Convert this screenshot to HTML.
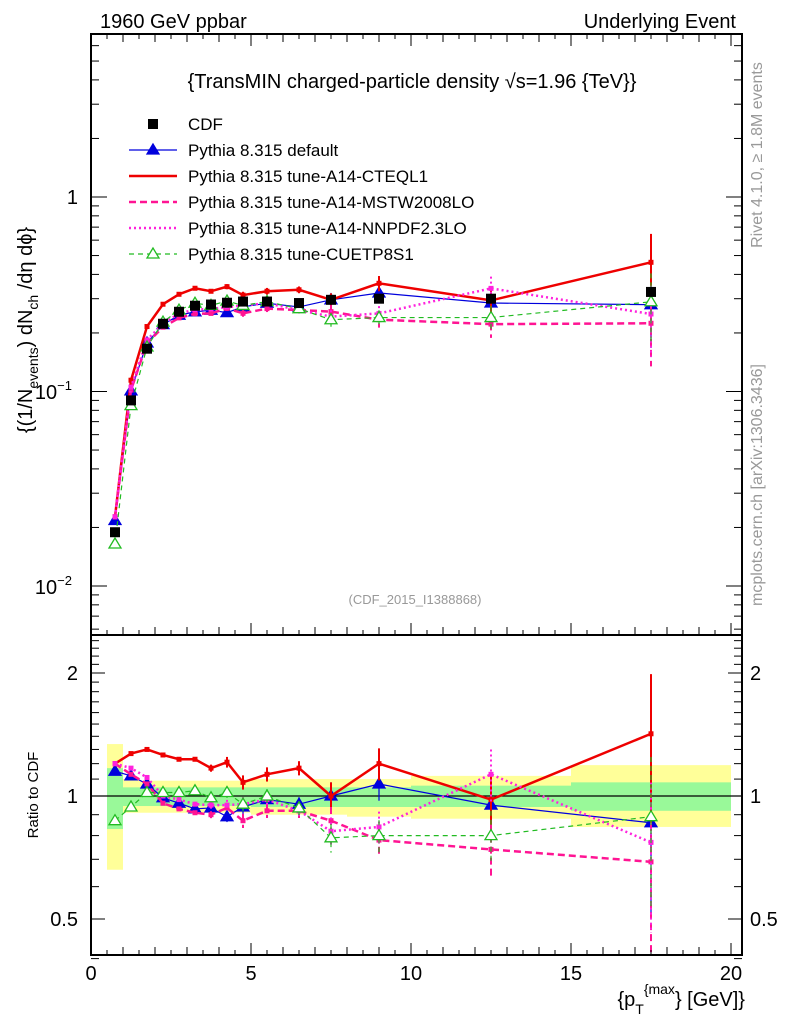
<!DOCTYPE html>
<html><head><meta charset="utf-8"><style>
body{margin:0;background:#fff;}
svg{display:block;font-family:"Liberation Sans",sans-serif;}
</style></head><body>
<svg id="c" width="786" height="1024" viewBox="0 0 786 1024" xmlns="http://www.w3.org/2000/svg">
<text x="100" y="28" font-size="20">1960 GeV ppbar</text>
<text x="736" y="28" font-size="20" text-anchor="end">Underlying Event</text>
<text x="412" y="88" font-size="20" text-anchor="middle">{TransMIN charged-particle density √s=1.96 {TeV}}</text>
<text x="415" y="604" font-size="13" fill="#999" text-anchor="middle">(CDF_2015_I1388868)</text>
<text transform="translate(762,155) rotate(-90)" font-size="16" fill="#999" text-anchor="middle">Rivet 4.1.0, ≥ 1.8M events</text>
<text transform="translate(762,485) rotate(-90)" font-size="16" fill="#999" text-anchor="middle">mcplots.cern.ch [arXiv:1306.3436]</text>
<text transform="translate(32,330) rotate(-90)" font-size="20" text-anchor="middle">{(1/N<tspan font-size="14" dy="6">events</tspan><tspan dy="-6">) dN</tspan><tspan font-size="14" dy="6">ch</tspan><tspan dy="-6"> /dη  dϕ}</tspan></text>
<text transform="translate(38,795) rotate(-90)" font-size="15" text-anchor="middle">Ratio to CDF</text>
<text x="745" y="1006" font-size="20" text-anchor="end">{p<tspan font-size="14" dy="8">T</tspan><tspan font-size="14" dy="-20">{max</tspan><tspan dy="12">} [GeV]}</tspan></text>
<g id="bands"></g><g id="series"></g><g id="axes"></g><g id="legend"></g>
</svg>
<script>
const xs=[0.75,1.25,1.75,2.25,2.75,3.25,3.75,4.25,4.75,5.5,6.5,7.5,9,12.5,17.5];
const binEdges=[0.5,1,1.5,2,2.5,3,3.5,4,4.5,5,6,7,8,10,15,20];
const cdf=[0.0189,0.090,0.166,0.223,0.257,0.276,0.28,0.286,0.29,0.29,0.285,0.296,0.30,0.30,0.325];
const yelUp=[1.34,1.10,1.09,1.09,1.09,1.09,1.09,1.09,1.09,1.1,1.1,1.1,1.1,1.12,1.19];
const yelDn=[0.66,0.91,0.91,0.91,0.91,0.91,0.91,0.91,0.91,0.9,0.9,0.9,0.89,0.88,0.84];
const grnUp=[1.17,1.05,1.05,1.05,1.05,1.05,1.05,1.05,1.05,1.05,1.05,1.05,1.05,1.06,1.08];
const grnDn=[0.83,0.945,0.945,0.945,0.945,0.945,0.945,0.945,0.945,0.94,0.94,0.94,0.94,0.94,0.92];
const rDefault=[1.15,1.12,1.07,0.99,0.96,0.93,0.935,0.89,0.94,0.98,0.955,1.0,1.07,0.95,0.86];
const rCTEQ=[1.20,1.27,1.30,1.26,1.23,1.23,1.17,1.21,1.08,1.13,1.17,1.0,1.2,0.98,1.42];
const rMSTW=[1.2,1.13,1.07,0.96,0.93,0.91,0.90,0.935,0.87,0.92,0.92,0.87,0.78,0.74,0.69];
const rNNPDF=[1.2,1.17,1.11,1.0,0.98,0.955,0.95,0.95,0.955,0.98,0.92,0.82,0.84,1.13,0.77];
const rCUETP=[0.87,0.94,1.02,1.02,1.02,1.03,0.99,1.02,0.955,1.0,0.935,0.79,0.8,0.8,0.89];
const relErr=[0.01,0.01,0.01,0.01,0.01,0.01,0.02,0.03,0.04,0.04,0.04,0.08,0.09,0.15,0.4];
const NS="http://www.w3.org/2000/svg";
const TOP=34;
const X=v=>91+32*v;
const YM=v=>197-194.5*Math.log10(v);
const YR=v=>796-408.6*Math.log10(v);
function el(t,a,p){const e=document.createElementNS(NS,t);for(const k in a)e.setAttribute(k,a[k]);document.getElementById(p).appendChild(e);return e;}
for(let i=0;i<xs.length;i++){
 const b1=el('rect',{x:X(binEdges[i]),y:YR(yelUp[i]),width:X(binEdges[i+1])-X(binEdges[i]),height:YR(yelDn[i])-YR(yelUp[i]),fill:'#ffff99'},'bands');
 
 
 const b2=el('rect',{x:X(binEdges[i]),y:YR(grnUp[i]),width:X(binEdges[i+1])-X(binEdges[i]),height:YR(grnDn[i])-YR(grnUp[i]),fill:'#99f999'},'bands');
 
 
}
const l1=el('line',{x1:91,x2:742,y1:YR(1),y2:YR(1),stroke:'#000','stroke-width':1.2},'bands');


const models=[
 {n:'pythia-default',r:rDefault,c:'#0000dd',w:1.2,d:'',m:'tri',f:true},
 {n:'pythia-a14-cteql1',r:rCTEQ,c:'#ee0000',w:2.5,d:'',m:'sq',f:true},
 {n:'pythia-a14-mstw2008lo',r:rMSTW,c:'#ff1493',w:2.5,d:'7,4',m:'sq',f:true},
 {n:'pythia-a14-nnpdf23lo',r:rNNPDF,c:'#ff22dd',w:2.5,d:'2,3',m:'sq',f:true},
 {n:'pythia-cuetp8s1',r:rCUETP,c:'#22bb22',w:1.2,d:'5,4',m:'tri',f:false}
];
function marker(type,x,y,c,fill,p,name){
 let e;
 if(type==='tri')e=el('polygon',{points:`${x},${y-6} ${x-6},${y+4} ${x+6},${y+4}`,fill:fill?c:'#fff',stroke:c,'stroke-width':1.3},p);
 else e=el('rect',{x:x-2.5,y:y-2.5,width:5,height:5,fill:c},p);
 
 
}
models.forEach(m=>{
 [[YM,true],[YR,false]].forEach(([Y,main])=>{
  const pts=xs.map((x,i)=>X(x)+','+Y(main?m.r[i]*cdf[i]:m.r[i])).join(' ');
  const pl=el('polyline',{points:pts,fill:'none',stroke:m.c,'stroke-width':m.w,'stroke-dasharray':m.d},'series');
  
  
  xs.forEach((x,i)=>{
   const v=main?m.r[i]*cdf[i]:m.r[i];
   const e=relErr[i];
   const eb=el('line',{x1:X(x),x2:X(x),y1:Y(v*(1+e)),y2:Y(Math.max(v*(1-e),0.01)),stroke:m.c,'stroke-width':m.w>2?2:1.2,'stroke-dasharray':m.d},'series');
   
   
   marker(m.m,X(x),Y(v),m.c,m.f,'series',m.n+'-point');
  });
 });
});
xs.forEach((x,i)=>{
 const r=el('rect',{x:X(x)-5,y:YM(cdf[i])-5,width:10,height:10,fill:'#000'},'series');
 
 
});
const ax='axes';
function L(x1,y1,x2,y2,w,name){const e=el('line',{x1,y1,x2,y2,stroke:'#000','stroke-width':w||1.3},ax);}
function T(x,y,s,anchor,sz,name){const e=el('text',{x,y,'font-size':sz||20,'text-anchor':anchor},ax);e.textContent=s;return e;}
const fr=el('rect',{x:91,y:TOP,width:651,height:955-TOP,fill:'none',stroke:'#000','stroke-width':2},ax);


L(91,635,742,635,2,'panel-divider');
const xTicks=[0,5,10,15,20];
for(let v=0;v<=20.01;v+=0.5){
 const maj=Math.abs(v%5)<1e-6, mid=Math.abs(v%1)<1e-6;
 const len=maj?12:(mid?8:5);
 L(X(v),635,X(v),635-len,1,'x-tick');L(X(v),955,X(v),955-len,1,'x-tick');L(X(v),TOP,X(v),TOP+len,1,'x-tick');
}
xTicks.forEach(v=>T(X(v),980,String(v),'middle',20,'x-tick-label'));
for(let d=-3;d<=0;d++)for(let k=1;k<10;k++){
 const v=k*Math.pow(10,d);const y=YM(v);if(y<TOP||y>635)continue;
 const len=k===1?16:8;
 L(91,y,91+len,y,1,'y-tick');L(742,y,742-len,y,1,'y-tick');
}
T(78,204,'1','end',20,'y-tick-label');
const t1=T(72,399,'10','end',20,'y-tick-label');const s1=document.createElementNS(NS,'tspan');s1.setAttribute('font-size','13');s1.setAttribute('dy','-9');s1.textContent='−1';t1.appendChild(s1);
const t2=T(72,594,'10','end',20,'y-tick-label');const s2=document.createElementNS(NS,'tspan');s2.setAttribute('font-size','13');s2.setAttribute('dy','-9');s2.textContent='−2';t2.appendChild(s2);
const rT=[0.4,0.5,0.6,0.7,0.8,0.9,1,1.1,1.2,1.3,1.4,1.5,1.6,1.7,1.8,1.9,2,2.1,2.2,2.3,2.4];
rT.forEach(v=>{const y=YR(v);const maj=(v===0.5||v===1||v===2);const len=maj?14:8;L(91,y,91+len,y,1,'ratio-y-tick');L(742,y,742-len,y,1,'ratio-y-tick');});
[['2',2],['1',1],['0.5',0.5]].forEach(([s,v])=>{T(78,YR(v)+7,s,'end',20,'ratio-tick-label');T(750,YR(v)+7,s,'start',20,'ratio-tick-label');});
const leg=[['CDF','cdf'],['Pythia 8.315 default',0],['Pythia 8.315 tune-A14-CTEQL1',1],['Pythia 8.315 tune-A14-MSTW2008LO',2],['Pythia 8.315 tune-A14-NNPDF2.3LO',3],['Pythia 8.315 tune-CUETP8S1',4]];
leg.forEach(([s,k],i)=>{
 const y=124+i*26;
 if(k==='cdf'){const r=el('rect',{x:148,y:y-5,width:10,height:10,fill:'#000'},'legend');}
 else{const m=models[k];const ln=el('line',{x1:129,x2:177,y1:y,y2:y,stroke:m.c,'stroke-width':m.w>2?2.5:1.2,'stroke-dasharray':m.d},'legend');
  if(m.m==='tri')marker('tri',153,y,m.c,m.f,'legend','legend-marker');}
 const t=el('text',{x:188,y:y+6,'font-size':17},'legend');t.textContent=s;
 
 
});
</script>
</body></html>
